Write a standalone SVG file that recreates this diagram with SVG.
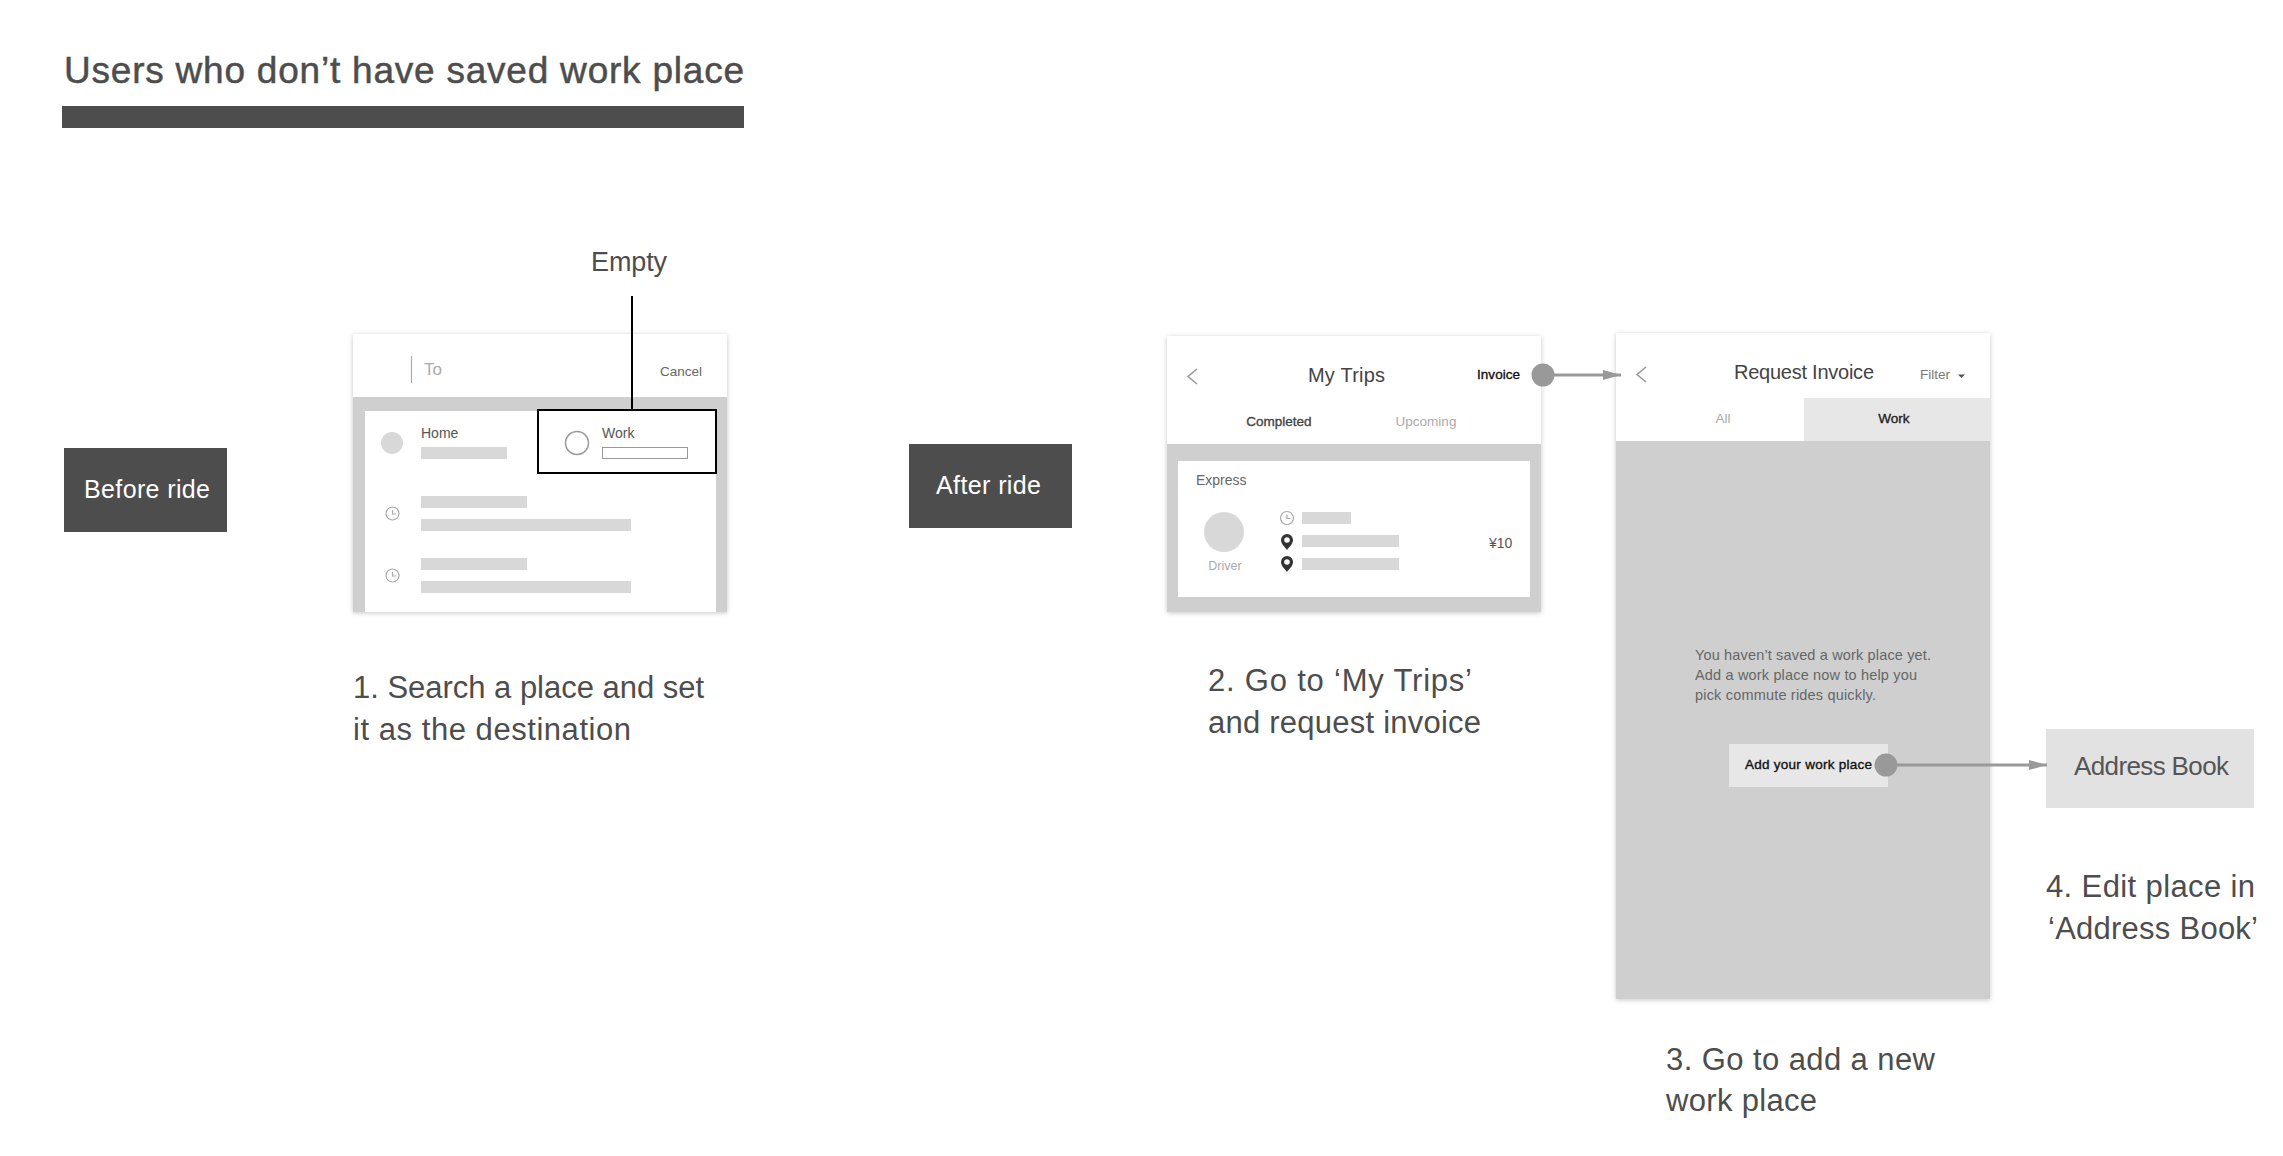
<svg xmlns="http://www.w3.org/2000/svg" width="2283" height="1156" viewBox="0 0 2283 1156">
<defs>
<style>
text{font-family:"Liberation Sans",Arial,sans-serif}
.step{font-size:31px;fill:#4d4d4d}
.d{fill:#4d4d4d}.b{fill:#d8d8d8}.g{fill:#cfcfcf}.w{fill:#fff}
.sm{font-size:14px;fill:#555}
.med{stroke-width:.35px}
.clock{fill:none;stroke:#aaa;stroke-width:1.2}
.conn{stroke:#999;stroke-width:3;fill:none}
.dot{fill:#999}
.chev{fill:none;stroke:#999;stroke-width:1.6}
</style>
<filter id="sh" x="-5%" y="-5%" width="110%" height="112%"><feDropShadow dx="0" dy="1" stdDeviation="2.5" flood-color="#000" flood-opacity="0.22"/></filter>
<marker id="arr" markerUnits="userSpaceOnUse" markerWidth="18" markerHeight="10" refX="18" refY="5" orient="auto"><path d="M0 0L18 5L0 10Z" fill="#999"/></marker>
<symbol id="pin" viewBox="0 0 12 16" overflow="visible"><path fill-rule="evenodd" fill="#333" d="M6 0A6 6 0 0 1 12 6C12 10 8 13 6 16C4 13 0 10 0 6A6 6 0 0 1 6 0ZM6 3.2A2.8 2.8 0 1 0 6 8.8A2.8 2.8 0 1 0 6 3.2Z"/></symbol>
</defs>
<rect width="2283" height="1156" fill="#fff"/>
<g id="title">
<text x="64" y="83" font-size="37" fill="#4d4d4d" stroke="#4d4d4d" stroke-width=".5" textLength="680" lengthAdjust="spacing">Users who don’t have saved work place</text>
<rect x="62" y="106" width="682" height="22" class="d"/>
</g>
<g id="before-ride"><rect x="64" y="448" width="163" height="84" class="d"/><text x="84" y="498" font-size="25" fill="#fff" textLength="126" lengthAdjust="spacing">Before ride</text></g>
<g id="after-ride"><rect x="909" y="444" width="163" height="84" class="d"/><text x="936" y="494" font-size="25" fill="#fff" textLength="105" lengthAdjust="spacing">After ride</text></g>
<g id="empty-label"><text x="591" y="271" font-size="27" fill="#4d4d4d" textLength="76" lengthAdjust="spacing">Empty</text></g>

<g id="screen-search">
<rect x="353" y="334" width="374" height="278" class="w" filter="url(#sh)"/>
<rect x="353" y="397" width="374" height="215" class="g"/>
<rect x="365" y="411" width="351" height="201" class="w"/>
<line x1="411.500" y1="356" x2="411.500" y2="383" stroke="#aaa" stroke-width="1.200"/>
<text x="424" y="375" font-size="17" fill="#aaa">To</text>
<text x="660" y="376" font-size="13.500" fill="#666">Cancel</text>
<circle cx="392" cy="443" r="11" class="b"/>
<text x="421" y="438" class="sm">Home</text>
<rect x="421" y="447" width="86" height="12" class="b"/>
<circle cx="577" cy="443" r="11.500" fill="#fff" stroke="#999" stroke-width="1.500"/>
<text x="602" y="438" class="sm">Work</text>
<rect x="602.500" y="447.500" width="85" height="11" fill="#fff" stroke="#999"/>
<g class="clock"><circle cx="392.500" cy="513.500" r="6.500"/><path d="M392.500 510V514H396"/><circle cx="392.500" cy="575.500" r="6.500"/><path d="M392.500 572V576H396"/></g>
<rect x="421" y="496" width="106" height="12" class="b"/><rect x="421" y="519" width="210" height="12" class="b"/>
<rect x="421" y="558" width="106" height="12" class="b"/><rect x="421" y="581" width="210" height="12" class="b"/>
<rect x="538" y="410" width="178" height="63" fill="none" stroke="#000" stroke-width="2"/>
</g>
<g id="step-1"><text x="353" y="698" class="step" textLength="351" lengthAdjust="spacing">1. Search a place and set</text><text x="353" y="740" class="step" textLength="278" lengthAdjust="spacing">it as the destination</text></g>

<g id="screen-trips">
<rect x="1167" y="336" width="374" height="276" class="w" filter="url(#sh)"/>
<rect x="1167" y="444" width="374" height="168" class="g"/>
<rect x="1178" y="461" width="352" height="136" class="w"/>
<path d="M1197 369L1188 376.500L1197 384" class="chev"/>
<text x="1308" y="382" font-size="20" fill="#444" textLength="77" lengthAdjust="spacing">My Trips</text>
<text x="1477" y="379" font-size="13.500" fill="#111" stroke="#111" class="med" textLength="43" lengthAdjust="spacing">Invoice</text>
<text x="1279" y="426" font-size="13.500" fill="#444" stroke="#444" class="med" text-anchor="middle">Completed</text>
<text x="1426" y="426" font-size="13.500" fill="#aaa" text-anchor="middle">Upcoming</text>
<text x="1196" y="485" font-size="14" fill="#666">Express</text>
<circle cx="1224" cy="532" r="20" class="b"/>
<text x="1225" y="570" font-size="12.500" fill="#aaa" text-anchor="middle">Driver</text>
<g class="clock"><circle cx="1287" cy="518" r="6.500"/><path d="M1287 514.500V518.500H1290.500"/></g>
<use href="#pin" x="1281" y="534" width="12" height="16"/><use href="#pin" x="1281" y="556" width="12" height="16"/>
<rect x="1302" y="512" width="49" height="12" class="b"/><rect x="1302" y="535" width="97" height="12" class="b"/><rect x="1302" y="558" width="97" height="12" class="b"/>
<text x="1489" y="548" font-size="14" fill="#555">¥10</text>
</g>
<g id="step-2"><text x="1208" y="691" class="step" textLength="264" lengthAdjust="spacing">2. Go to ‘My Trips’</text><text x="1208" y="733" class="step" textLength="273" lengthAdjust="spacing">and request invoice</text></g>

<g id="screen-invoice">
<rect x="1616" y="333" width="374" height="666" class="w" filter="url(#sh)"/>
<rect x="1616" y="441" width="374" height="558" class="g"/>
<rect x="1804" y="398" width="186" height="43" fill="#e7e7e7"/>
<path d="M1646 367L1637 374.500L1646 382" class="chev"/>
<text x="1734" y="379" font-size="20" fill="#444" textLength="140" lengthAdjust="spacing">Request Invoice</text>
<text x="1920" y="379" font-size="13.500" fill="#777">Filter</text>
<path d="M1958 374.500H1965L1961.500 378Z" fill="#555"/>
<text x="1723" y="423" font-size="13.500" fill="#aaa" text-anchor="middle">All</text>
<text x="1894" y="423" font-size="13.500" fill="#222" stroke="#222" class="med" text-anchor="middle">Work</text>
<text x="1695" y="660" font-size="14.500" fill="#666" textLength="236" lengthAdjust="spacing">You haven’t saved a work place yet.</text>
<text x="1695" y="680" font-size="14.500" fill="#666" textLength="222" lengthAdjust="spacing">Add a work place now to help you</text>
<text x="1695" y="700" font-size="14.500" fill="#666" textLength="181" lengthAdjust="spacing">pick commute rides quickly.</text>
<rect x="1729" y="744" width="159" height="43" fill="#e7e7e7"/>
<text x="1745" y="769" font-size="13.500" fill="#111" stroke="#111" class="med" textLength="127" lengthAdjust="spacing">Add your work place</text>
</g>
<g id="step-3"><text x="1666" y="1070" class="step" textLength="269" lengthAdjust="spacing">3. Go to add a new</text><text x="1666" y="1111" class="step" textLength="151" lengthAdjust="spacing">work place</text></g>

<g id="address-book"><rect x="2046" y="729" width="208" height="79" fill="#e2e2e2"/><text x="2074" y="775" font-size="26" fill="#555" textLength="155" lengthAdjust="spacing">Address Book</text></g>
<g id="step-4"><text x="2046" y="897" class="step" textLength="209" lengthAdjust="spacing">4. Edit place in</text><text x="2048" y="939" class="step" textLength="210" lengthAdjust="spacing">‘Address Book’</text></g>

<g id="connectors">
<line x1="632" y1="296" x2="632" y2="410" stroke="#000" stroke-width="2"/>
<circle cx="1543" cy="375" r="11.500" class="dot"/>
<line x1="1543" y1="375" x2="1621" y2="375" class="conn" marker-end="url(#arr)"/>
<circle cx="1886" cy="765" r="11.500" class="dot"/>
<line x1="1886" y1="765" x2="2047" y2="765" class="conn" marker-end="url(#arr)"/>
</g>
</svg>
